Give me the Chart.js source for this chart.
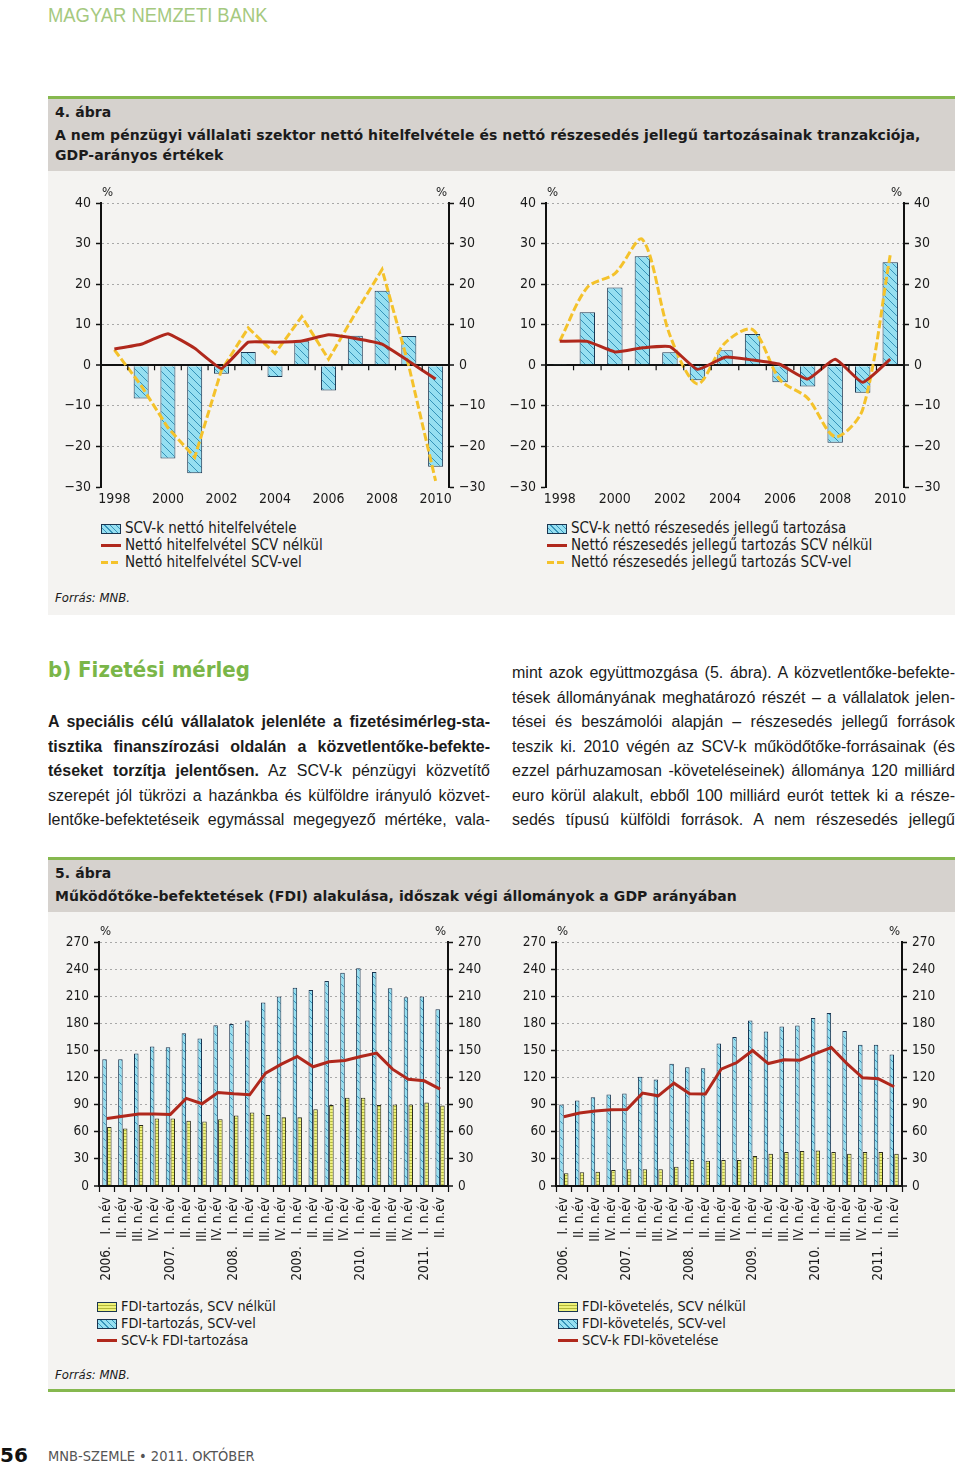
<!DOCTYPE html>
<html lang="hu">
<head>
<meta charset="utf-8">
<title>MNB-Szemle 2011. október</title>
<script src="https://cdn.jsdelivr.net/npm/chart.js@4.4.1/dist/chart.umd.min.js"></script>
<style>
  body { margin: 0; background: #fff; }
  #page { position: relative; width: 960px; height: 1465px; overflow: hidden; color: #1b1b1b;
          font-family: "DejaVu Sans Condensed", "DejaVu Sans", sans-serif; }
  .abs { position: absolute; white-space: nowrap; }
  .green { position: absolute; left: 48px; width: 907px; height: 3px; background: #86b84f; }
  .head { position: absolute; left: 48px; width: 907px; background: #d6d2ce; }
  .body { position: absolute; left: 48px; width: 907px; background: #f4f3f1; }
  .ht { position: absolute; left: 55px; font: bold 14px "DejaVu Sans", sans-serif; line-height: 18px; white-space: nowrap; letter-spacing: 0.08px; }
  .src { position: absolute; left: 55px; font: italic 13px "DejaVu Sans Condensed", sans-serif; line-height: 16px; }
  canvas { position: absolute; }
  .legend { position: absolute; font-size: 15px; line-height: 17px; }
  .legend.small { font-size: 14.3px; }
  .legend .row { display: flex; align-items: center; height: 17px; white-space: nowrap; }
  .legend .sw { width: 20px; height: 10px; margin-right: 4px; box-sizing: border-box; flex: none; }
  .col { position: absolute; font: 16px "Liberation Sans Narrow", sans-serif; line-height: 24.5px; }
  .col div { text-align: justify; text-align-last: justify; height: 24.5px; overflow: hidden; }
  .col b { font-weight: bold; }
</style>
</head>
<body>
<div id="page">
  <div class="abs" style="left:48px;top:3px;font:20px 'Liberation Sans Narrow',sans-serif;color:#a5c97f;line-height:24px;transform:scaleX(0.92);transform-origin:0 0;">MAGYAR NEMZETI BANK</div>

  <div class="green" style="top:96px"></div>
  <div class="head" style="top:99px;height:72px"></div>
  <div class="body" style="top:171px;height:444px"></div>
  <div class="ht" style="top:103px">4. ábra</div>
  <div class="ht" style="top:126px">A nem pénzügyi vállalati szektor nettó hitelfelvétele és nettó részesedés jellegű tartozásainak tranzakciója,</div>
  <div class="ht" style="top:146px">GDP-arányos értékek</div>

  <canvas id="c1" width="450" height="330" style="left:50px;top:180px"></canvas>
  <canvas id="c2" width="455" height="330" style="left:505px;top:180px"></canvas>
  <div class="legend" id="lg1" style="left:101px;top:520px"></div>
  <div class="legend" id="lg2" style="left:547px;top:520px"></div>
  <div class="src" style="top:590px">Forrás: MNB.</div>

  <div class="abs" style="left:48px;top:655px;font:bold 22px 'DejaVu Sans Condensed',sans-serif;color:#7ab648;line-height:30px;">b) Fizetési mérleg</div>
  <div class="col" style="left:48px;top:710px;width:442px">
    <div><b>A speciális célú vállalatok jelenléte a fizetésimérleg-sta-</b></div>
    <div><b>tisztika finanszírozási oldalán a közvetlentőke-befekte-</b></div>
    <div><b>téseket torzítja jelentősen.</b> Az SCV-k pénzügyi közvetítő</div>
    <div>szerepét jól tükrözi a hazánkba és külföldre irányuló közvet-</div>
    <div>lentőke-befektetéseik egymással megegyező mértéke, vala-</div>
  </div>
  <div class="col" style="left:512px;top:661px;width:443px">
    <div>mint azok együttmozgása (5. ábra). A közvetlentőke-befekte-</div>
    <div>tések állományának meghatározó részét – a vállalatok jelen-</div>
    <div>tései és beszámolói alapján – részesedés jellegű források</div>
    <div>teszik ki. 2010 végén az SCV-k működőtőke-forrásainak (és</div>
    <div>ezzel párhuzamosan -követeléseinek) állománya 120 milliárd</div>
    <div>euro körül alakult, ebből 100 milliárd eurót tettek ki a része-</div>
    <div>sedés típusú külföldi források. A nem részesedés jellegű</div>
  </div>

  <div class="green" style="top:857px"></div>
  <div class="head" style="top:860px;height:52px"></div>
  <div class="body" style="top:912px;height:477px"></div>
  <div class="green" style="top:1389px"></div>
  <div class="ht" style="top:864px">5. ábra</div>
  <div class="ht" style="top:887px">Működőtőke-befektetések (FDI) alakulása, időszak végi állományok a GDP arányában</div>

  <canvas id="c3" width="440" height="365" style="left:50px;top:925px"></canvas>
  <canvas id="c4" width="460" height="365" style="left:500px;top:925px"></canvas>
  <div class="legend small" id="lg3" style="left:97px;top:1298px"></div>
  <div class="legend small" id="lg4" style="left:558px;top:1298px"></div>
  <div class="src" style="top:1367px">Forrás: MNB.</div>

  <div class="abs" style="left:0;top:1443px;font:bold 20px 'DejaVu Sans',sans-serif;color:#111;line-height:24px;">56</div>
  <div class="abs" style="left:48px;top:1446px;font:14.5px 'DejaVu Sans Condensed',sans-serif;color:#555;line-height:20px;">MNB-SZEMLE • 2011. OKTÓBER</div>
</div>

<script>
// 4. ábra, évek
const years = ['1998', '1999', '2000', '2001', '2002', '2003', '2004', '2005', '2006', '2007', '2008', '2009', '2010'];
const scvNetBorrowing = [0, -8.2, -23.0, -26.6, -2.1, 3.3, -2.9, 5.9, -6.2, 7.3, 18.4, 7.2, -25.0];
const netBorrowingExclScv = [4.0, 5.2, 7.8, 4.2, -0.8, 5.7, 5.7, 6.0, 7.5, 6.6, 5.2, 1.0, -3.4];
const netBorrowingInclScv = [3.8, -5.0, -15.4, -22.7, -1.2, 9.2, 2.9, 12.0, 1.5, 12.8, 23.6, -0.2, -28.5];

const scvNetEquity = [0.2, 13.1, 19.2, 26.9, 3.2, -3.7, 3.7, 7.7, -4.2, -5.2, -19.1, -6.8, 25.4];
const netEquityExclScv = [5.9, 5.9, 3.3, 4.3, 4.6, -1.0, 2.0, 1.3, 0.2, -3.4, 1.5, -4.2, 1.5];
const netEquityInclScv = [6.0, 19.2, 22.6, 31.0, 7.4, -4.6, 5.5, 8.8, -3.6, -8.1, -17.6, -10.9, 27.2];

const topTicks = [-30, -20, -10, 0, 10, 20, 30, 40];

// 5. ábra, negyedévek
const quarters = [
  '2006.   I. n.év', 'II. n.év', 'III. n.év', 'IV. n.év',
  '2007.   I. n.év', 'II. n.év', 'III. n.év', 'IV. n.év',
  '2008.   I. n.év', 'II. n.év', 'III. n.év', 'IV. n.év',
  '2009.   I. n.év', 'II. n.év', 'III. n.év', 'IV. n.év',
  '2010.   I. n.év', 'II. n.év', 'III. n.év', 'IV. n.év',
  '2011.   I. n.év', 'II. n.év'
];
const fdiLiabExclScv = [65.2, 63.7, 67.4, 74.8, 74.8, 72.2, 71.5, 74.0, 78.0, 81.4, 78.5, 76.2, 76.2, 85.0, 89.5, 97.6, 97.6, 89.5, 90.2, 90.2, 92.4, 89.1];
const fdiLiabInclScv = [140.3, 140.3, 146.6, 154.3, 153.6, 169.0, 163.2, 177.9, 179.4, 183.0, 203.0, 209.6, 219.5, 217.0, 226.9, 236.0, 240.9, 236.8, 218.8, 208.8, 209.6, 195.6];
const scvFdiLiab = [74.8, 77.3, 79.6, 79.6, 79.2, 96.9, 91.0, 103.5, 102.0, 100.9, 124.9, 134.8, 143.3, 131.9, 137.4, 138.9, 143.3, 147.0, 129.3, 118.2, 116.4, 107.2];

const fdiAssetsExclScv = [14.0, 15.1, 15.8, 17.7, 18.4, 18.4, 18.4, 21.4, 28.7, 28.0, 28.7, 28.7, 33.1, 35.7, 37.6, 38.7, 39.4, 37.6, 35.7, 37.6, 37.6, 35.7];
const fdiAssetsInclScv = [90.2, 94.7, 98.3, 101.3, 102.4, 120.8, 117.9, 135.2, 131.5, 130.4, 157.6, 165.0, 183.0, 170.9, 176.4, 177.5, 186.0, 191.5, 171.6, 156.2, 156.2, 145.5];
const scvFdiAssets = [76.6, 80.7, 82.9, 84.3, 84.7, 102.8, 99.8, 113.8, 102.0, 101.7, 129.3, 136.6, 149.9, 135.5, 139.6, 139.2, 146.6, 153.2, 135.5, 119.7, 118.6, 109.8];

const bottomTicks = [0, 30, 60, 90, 120, 150, 180, 210, 240, 270];

const RED = '#b0281c', GOLD = '#f4c22b', NAVY = '#1a3550', INK = '#1b1b1b';
const FAMILY = '"DejaVu Sans Condensed", "DejaVu Sans", sans-serif';

function hatch(bg, fg, kind) {
  const c = document.createElement('canvas');
  const n = kind === 'diag' ? 8 : 6;
  c.width = c.height = n;
  const g = c.getContext('2d');
  g.fillStyle = bg;
  g.fillRect(0, 0, n, n);
  g.strokeStyle = fg;
  g.lineWidth = 1;
  g.beginPath();
  if (kind === 'diag') {
    g.moveTo(-1, -1); g.lineTo(n + 1, n + 1);
    g.moveTo(n - 1, -1); g.lineTo(n + 1, 1);
    g.moveTo(-1, n - 1); g.lineTo(1, n + 1);
  } else {
    g.moveTo(0, 1.5); g.lineTo(n, 1.5);
    g.moveTo(0, 4.5); g.lineTo(n, 4.5);
  }
  g.stroke();
  return g.createPattern(c, 'repeat');
}
const blueHatch = hatch('#96dff1', '#3593b9', 'diag');
const yellowHatch = hatch('#eef17a', '#b3b83a', 'horiz');

const fmt = v => v < 0 ? '\u2212' + Math.abs(v) : String(v);

function yAxis(pos, tickArr, width, size) {
  const min = tickArr[0], max = tickArr[tickArr.length - 1];
  return {
    position: pos, min: min, max: max,
    afterFit: s => { s.width = width; },
    afterBuildTicks: s => { s.ticks = tickArr.map(v => ({ value: v })); },
    ticks: { font: { family: FAMILY, size: size }, color: INK, padding: 5, callback: fmt },
    grid: {
      drawOnChartArea: pos === 'left',
      color: c => c.tick.value === 0 ? '#111' : (c.tick.value === min ? 'rgba(0,0,0,0)' : '#a8a8a8'),
      lineWidth: c => c.tick.value === 0 ? 2 : 1,
      tickColor: '#111', tickLength: 5, tickWidth: 1.5
    },
    border: { color: '#111', width: 2, dash: c => (c.tick && c.tick.value !== 0) ? [2, 3] : [] }
  };
}

// % felirat a két tengely tetején
const unitPlugin = {
  id: 'units',
  afterDraw(chart) {
    const { ctx, chartArea } = chart;
    ctx.save();
    ctx.font = '13px ' + FAMILY;
    ctx.fillStyle = INK;
    ctx.textBaseline = 'bottom';
    ctx.textAlign = 'left';
    ctx.fillText('%', chartArea.left + 1, chartArea.top - 4);
    ctx.textAlign = 'right';
    ctx.fillText('%', chartArea.right - 2, chartArea.top - 4);
    ctx.restore();
  }
};

// kis osztásjelek a 0 vonalon
const zeroTicks = {
  id: 'zeroTicks',
  afterDatasetsDraw(chart) {
    const x = chart.scales.x, y = chart.scales.y, ctx = chart.ctx;
    const y0 = y.getPixelForValue(0);
    ctx.save();
    ctx.strokeStyle = '#111';
    ctx.lineWidth = 1.2;
    for (let i = 1; i < chart.data.labels.length; i++) {
      const px = (x.getPixelForValue(i - 1) + x.getPixelForValue(i)) / 2;
      ctx.beginPath();
      ctx.moveTo(px, y0);
      ctx.lineTo(px, y0 + 5);
      ctx.stroke();
    }
    ctx.restore();
  }
};

function topChart(id, bars, red, gold, labels, leftW, rightW, smooth) {
  return new Chart(document.getElementById(id), {
    type: 'bar',
    data: {
      labels: years,
      datasets: [
        { type: 'bar', label: labels[0], data: bars, backgroundColor: blueHatch, borderColor: NAVY, borderWidth: 1,
          categoryPercentage: 0.56, barPercentage: 1, order: 3 },
        { type: 'line', label: labels[1], data: red, borderColor: RED, borderWidth: 3, pointRadius: 0,
          tension: smooth ? 0.15 : 0.1, order: 1 },
        { type: 'line', label: labels[2], data: gold, borderColor: GOLD, borderWidth: 3, borderDash: [8, 3],
          pointRadius: 0, tension: smooth ? 0.3 : 0, order: 2 }
      ]
    },
    options: {
      responsive: false, animation: false,
      layout: { padding: { top: 23, left: 0, right: 0, bottom: 0 } },
      plugins: { legend: { display: false }, tooltip: { enabled: false } },
      scales: {
        x: {
          offset: true,
          afterFit: s => { s.height = 23; },
          ticks: { font: { family: FAMILY, size: 14 }, color: INK, padding: 4, autoSkip: false, maxRotation: 0,
                   callback: (v, i) => i % 2 === 0 ? years[i] : '' },
          grid: { display: false, drawTicks: false },
          border: { display: false }
        },
        y: yAxis('left', topTicks, leftW, 14),
        y2: yAxis('right', topTicks, rightW, 14)
      }
    },
    plugins: [unitPlugin, zeroTicks]
  });
}

function bottomChart(id, yel, blue, red, labels, leftW, rightW) {
  return new Chart(document.getElementById(id), {
    type: 'bar',
    data: {
      labels: quarters,
      datasets: [
        { type: 'bar', label: labels[0], data: yel, backgroundColor: yellowHatch, borderColor: '#2a2a1a', borderWidth: 1,
          categoryPercentage: 0.6, barPercentage: 0.95, order: 3 },
        { type: 'bar', label: labels[1], data: blue, backgroundColor: blueHatch, borderColor: NAVY, borderWidth: 1,
          categoryPercentage: 0.6, barPercentage: 0.95, order: 2 },
        { type: 'line', label: labels[2], data: red, borderColor: RED, borderWidth: 3, pointRadius: 0, tension: 0, order: 1 }
      ]
    },
    options: {
      responsive: false, animation: false,
      layout: { padding: { top: 17, left: 0, right: 0, bottom: 0 } },
      plugins: { legend: { display: false }, tooltip: { enabled: false } },
      scales: {
        x: {
          offset: true,
          afterFit: s => { s.height = 104; },
          ticks: { font: { family: FAMILY, size: 13.5 }, color: INK, padding: 5, autoSkip: false, minRotation: 90, maxRotation: 90 },
          grid: { drawOnChartArea: false, offset: true, tickLength: 6, tickColor: '#111', tickWidth: 1.2 },
          border: { color: '#111', width: 2 }
        },
        y: yAxis('left', bottomTicks, leftW, 13.5),
        y2: yAxis('right', bottomTicks, rightW, 13.5)
      }
    },
    plugins: [unitPlugin]
  });
}

function swatchStyle(ds) {
  if (ds.type === 'bar') {
    const bg = ds.backgroundColor === blueHatch
      ? 'repeating-linear-gradient(45deg,#96dff1 0 3px,#3593b9 3px 4px)'
      : 'repeating-linear-gradient(180deg,#eef17a 0 2px,#b3b83a 2px 3px)';
    return 'background:' + bg + ';border:1px solid ' + NAVY + ';';
  }
  if (ds.borderDash) {
    return 'height:3px;background:repeating-linear-gradient(90deg,' + ds.borderColor + ' 0 7px,transparent 7px 10px);';
  }
  return 'height:3px;background:' + ds.borderColor + ';';
}

function htmlLegend(chart, elId) {
  document.getElementById(elId).innerHTML = chart.data.datasets.map(ds =>
    '<div class="row"><span class="sw" style="' + swatchStyle(ds) + '"></span>' + ds.label + '</div>'
  ).join('');
}

const c1 = topChart('c1', scvNetBorrowing, netBorrowingExclScv, netBorrowingInclScv,
  ['SCV-k nettó hitelfelvétele', 'Nettó hitelfelvétel SCV nélkül', 'Nettó hitelfelvétel SCV-vel'], 51, 51, false);
const c2 = topChart('c2', scvNetEquity, netEquityExclScv, netEquityInclScv,
  ['SCV-k nettó részesedés jellegű tartozása', 'Nettó részesedés jellegű tartozás SCV nélkül', 'Nettó részesedés jellegű tartozás SCV-vel'], 41, 56, true);
const c3 = bottomChart('c3', fdiLiabExclScv, fdiLiabInclScv, scvFdiLiab,
  ['FDI-tartozás, SCV nélkül', 'FDI-tartozás, SCV-vel', 'SCV-k FDI-tartozása'], 49, 42);
const c4 = bottomChart('c4', fdiAssetsExclScv, fdiAssetsInclScv, scvFdiAssets,
  ['FDI-követelés, SCV nélkül', 'FDI-követelés, SCV-vel', 'SCV-k FDI-követelése'], 56, 58);

htmlLegend(c1, 'lg1');
htmlLegend(c2, 'lg2');
htmlLegend(c3, 'lg3');
htmlLegend(c4, 'lg4');
</script>
</body>
</html>
